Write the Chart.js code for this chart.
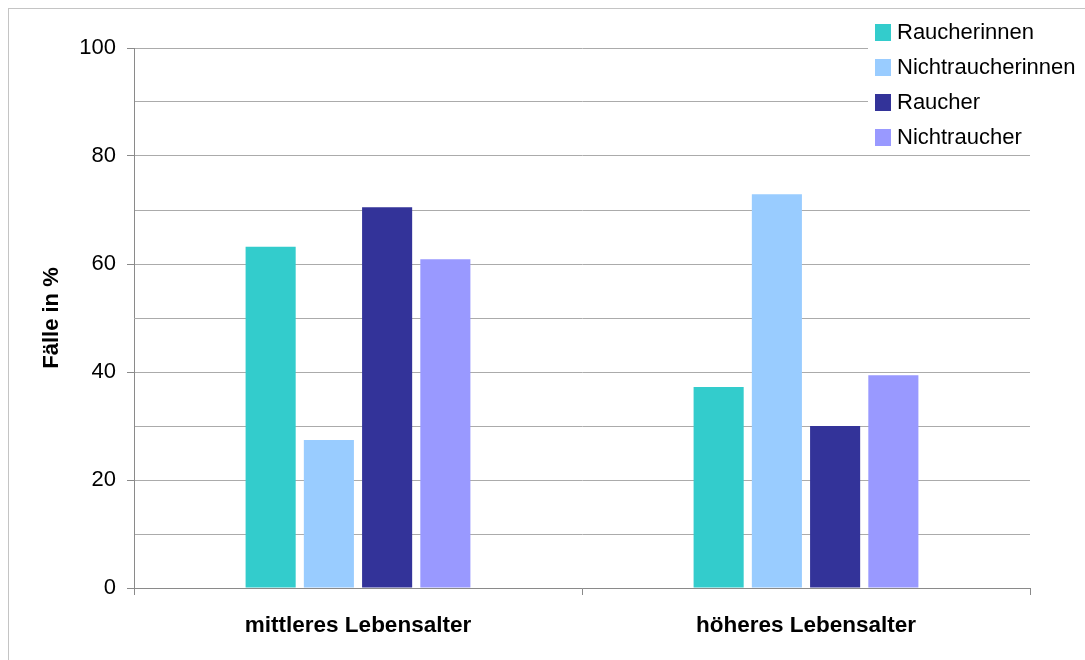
<!DOCTYPE html>
<html>
<head>
<meta charset="utf-8">
<script src="https://cdn.jsdelivr.net/npm/chart.js@4"></script>
<style>
    html, body { margin: 0; padding: 0; background: #fff; }
    #wrap { width: 1085px; height: 660px; position: relative; }
</style>
</head>
<body>
<div id="wrap"><canvas id="faelle"></canvas></div>
<script>
// Age groups and share of cases per group (%)
const altersgruppen = ['mittleres Lebensalter', 'höheres Lebensalter'];
const raucherinnen = [63.2, 37.2];
const nichtraucherinnen = [27.4, 72.9];
const raucher = [70.5, 30.0];
const nichtraucher = [60.9, 39.4];

const FONT = "'Liberation Sans', Arial, sans-serif";

// Frame round the whole chart (only left and top edge are on the canvas)
const rahmen = {
    id: 'rahmen',
    beforeDraw(chart) {
        const ctx = chart.ctx;
        ctx.save();
        ctx.fillStyle = '#fff';
        ctx.fillRect(0, 0, chart.width, chart.height);
        ctx.strokeStyle = '#c4c4c4';
        ctx.lineWidth = 1;
        ctx.strokeRect(8.5, 8.5, chart.width + 10, chart.height + 10);
        ctx.restore();
    }
};

// Legend box in the top right corner, drawn over the plot
const legende = {
    id: 'legende',
    afterDraw(chart) {
        const ctx = chart.ctx;
        ctx.save();
        ctx.fillStyle = '#fff';
        ctx.fillRect(868, 14, chart.width - 868, 138);
        ctx.font = '22px ' + FONT;
        ctx.textBaseline = 'middle';
        chart.data.datasets.forEach((ds, i) => {
            const y = 32 + i * 35;
            ctx.fillStyle = ds.backgroundColor;
            ctx.fillRect(875, y - 8, 16, 17);
            ctx.fillStyle = '#000';
            ctx.fillText(ds.label, 897, y + 1);
        });
        ctx.restore();
    }
};

new Chart(document.getElementById('faelle'), {
    type: 'bar',
    data: {
        labels: altersgruppen,
        datasets: [
            { label: 'Raucherinnen', data: raucherinnen, backgroundColor: '#33CCCC' },
            { label: 'Nichtraucherinnen', data: nichtraucherinnen, backgroundColor: '#99CCFF' },
            { label: 'Raucher', data: raucher, backgroundColor: '#333399' },
            { label: 'Nichtraucher', data: nichtraucher, backgroundColor: '#9999FF' }
        ]
    },
    options: {
        responsive: true,
        maintainAspectRatio: false,
        animation: false,
        devicePixelRatio: 1,
        categoryPercentage: 0.52,
        barPercentage: 0.86,
        layout: { padding: { top: 48, right: 55, left: 0, bottom: 0 } },
        plugins: {
            legend: { display: false },
            tooltip: { enabled: false }
        },
        scales: {
            x: {
                offset: true,
                afterFit: (scale) => { scale.height = 72; },
                grid: {
                    offset: true,
                    drawOnChartArea: false,
                    drawTicks: true,
                    tickLength: 7,
                    tickColor: '#8a8a8a'
                },
                border: { color: '#8a8a8a', width: 1 },
                ticks: {
                    color: '#000',
                    padding: 17,
                    font: { family: FONT, size: 22.5, weight: 'bold' }
                }
            },
            y: {
                min: 0,
                max: 100,
                afterFit: (scale) => { scale.width = 134; },
                grid: {
                    color: '#ababab',
                    drawTicks: true,
                    tickLength: 7,
                    tickColor: (c) => (c.tick && c.tick.value % 20 === 0) ? '#8a8a8a' : 'rgba(0,0,0,0)'
                },
                border: { color: '#8a8a8a', width: 1 },
                ticks: {
                    stepSize: 10,
                    color: '#000',
                    padding: 11,
                    font: { family: FONT, size: 22 },
                    callback: (v) => v % 20 === 0 ? v : ''
                },
                title: {
                    display: true,
                    text: 'Fälle in %',
                    color: '#000',
                    padding: { top: 39, bottom: 0 },
                    font: { family: FONT, size: 22, weight: 'bold' }
                }
            }
        }
    },
    plugins: [rahmen, legende]
});
</script>
</body>
</html>
